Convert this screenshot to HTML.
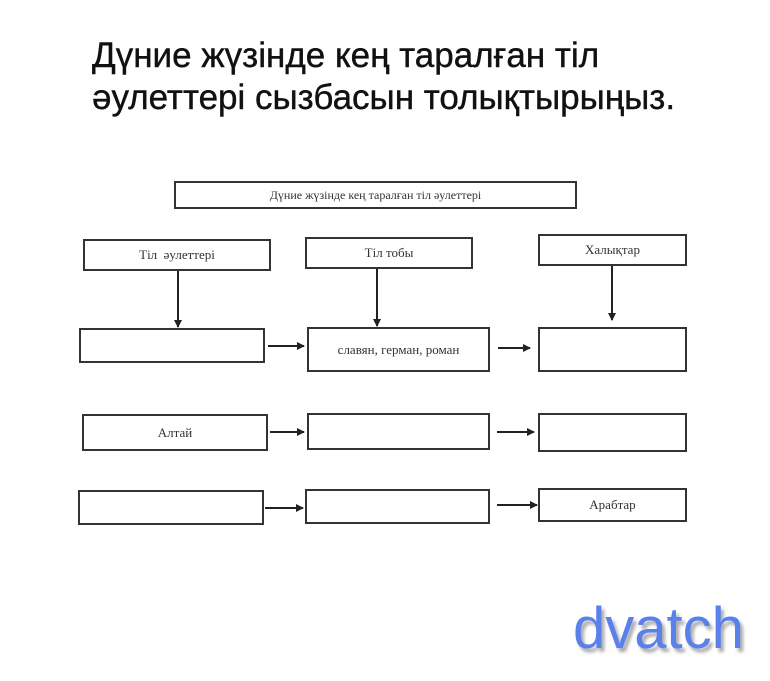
<!DOCTYPE html>
<html><head><meta charset="utf-8"><style>
body{margin:0;width:770px;height:681px;background:#fff;overflow:hidden;position:relative;font-family:"Liberation Serif",serif}
.t{position:absolute;left:92px;font-family:"Liberation Sans",sans-serif;font-size:35px;color:#111;white-space:nowrap;-webkit-text-stroke:0.4px #111}
.b{position:absolute;border:2px solid #333;box-sizing:border-box;display:flex;align-items:center;justify-content:center;font-size:13px;color:#333}
.w{position:absolute;left:573px;top:595px;font-family:"Liberation Sans",sans-serif;font-size:58px;color:#5a80ec;text-shadow:3px 4px 3px #aaa}
</style></head><body>
<div class="t" style="top:36px">Дүние жүзінде кең таралған тіл</div>
<div class="t" style="top:78px">әулеттері сызбасын толықтырыңыз.</div>
<div class="b" style="left:174px;top:181px;width:403px;height:28px;font-size:12px">Дүние жүзінде кең таралған тіл әулеттері</div>
<div class="b" style="left:83px;top:239px;width:188px;height:32px">Тіл&nbsp; әулеттері</div>
<div class="b" style="left:305px;top:237px;width:168px;height:32px">Тіл тобы</div>
<div class="b" style="left:538px;top:234px;width:149px;height:32px">Халықтар</div>
<div class="b" style="left:79px;top:328px;width:186px;height:35px"></div>
<div class="b" style="left:307px;top:327px;width:183px;height:45px">славян, герман, роман</div>
<div class="b" style="left:538px;top:327px;width:149px;height:45px"></div>
<div class="b" style="left:82px;top:414px;width:186px;height:37px">Алтай</div>
<div class="b" style="left:307px;top:413px;width:183px;height:37px"></div>
<div class="b" style="left:538px;top:413px;width:149px;height:39px"></div>
<div class="b" style="left:78px;top:490px;width:186px;height:35px"></div>
<div class="b" style="left:305px;top:489px;width:185px;height:35px"></div>
<div class="b" style="left:538px;top:488px;width:149px;height:34px">Арабтар</div>
<svg width="770" height="681" style="position:absolute;left:0;top:0">
<defs><marker id="a" markerWidth="8" markerHeight="8" refX="7" refY="4" orient="auto" markerUnits="userSpaceOnUse"><path d="M0,0L8,4L0,8z" fill="#222"/></marker></defs>
<g stroke="#222" stroke-width="2" marker-end="url(#a)">
<line x1="178" y1="271" x2="178" y2="327"/>
<line x1="377" y1="269" x2="377" y2="326"/>
<line x1="612" y1="266" x2="612" y2="320"/>
<line x1="268" y1="346" x2="304" y2="346"/>
<line x1="498" y1="348" x2="530" y2="348"/>
<line x1="270" y1="432" x2="304" y2="432"/>
<line x1="497" y1="432" x2="534" y2="432"/>
<line x1="265" y1="508" x2="303" y2="508"/>
<line x1="497" y1="505" x2="537" y2="505"/>
</g></svg>
<div class="w">dvatch</div>
</body></html>
